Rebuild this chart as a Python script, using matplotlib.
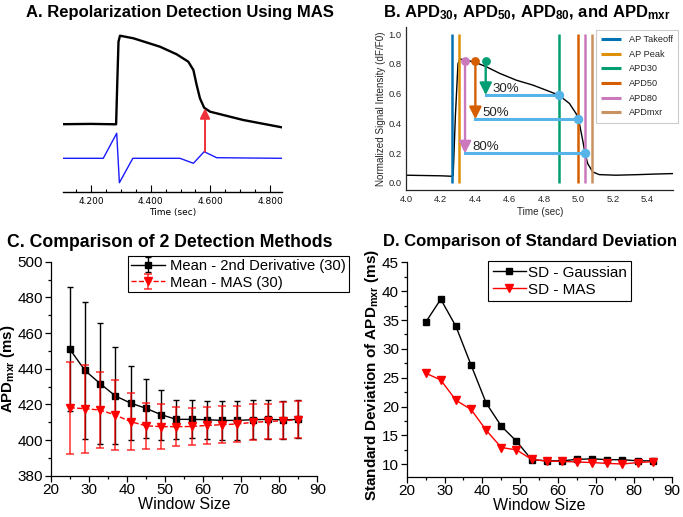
import matplotlib.pyplot as plt
import matplotlib.ticker as mticker

plt.rcParams["font.family"] = ["Liberation Sans", "DejaVu Sans"]
plt.rcParams["mathtext.default"] = "regular"

# ---- panel A: optical AP trace and MAS signal (time in s, amplitude in a.u.)
a_ap_time = [4.107, 4.200, 4.284, 4.288, 4.292, 4.297, 4.342, 4.431, 4.487, 4.526,
             4.543, 4.554, 4.565, 4.579, 4.599, 4.710, 4.839]
a_ap = [67.5, 67.8, 67.4, 110.0, 150.0, 156.0, 153.4, 145.0, 137.4, 130.0,
        121.7, 106.7, 93.4, 84.0, 80.0, 71.7, 64.4]
a_mas_time = [4.107, 4.241, 4.286, 4.295, 4.340, 4.498, 4.543, 4.579, 4.621, 4.839]
a_mas = [33.4, 33.4, 58.4, 9.0, 33.4, 33.4, 28.4, 40.0, 34.0, 33.4]
a_repol_t = 4.582
a_repol_from = 40.0
a_repol_to = 83.4

# ---- panel B: normalized AP with detected time points
b_time = [4.00, 4.10, 4.20, 4.263, 4.272, 4.285, 4.300, 4.311, 4.349, 4.407, 4.465,
          4.542, 4.639, 4.735, 4.812, 4.885, 4.947, 4.985, 5.000, 5.024, 5.038,
          5.053, 5.082, 5.120, 5.217, 5.350, 5.450, 5.550]
b_signal = [0.052, 0.050, 0.048, 0.045, 0.050, 0.45, 0.80, 0.832, 0.825, 0.807, 0.780,
            0.736, 0.690, 0.657, 0.623, 0.590, 0.534, 0.467, 0.428, 0.287, 0.198,
            0.130, 0.074, 0.056, 0.052, 0.056, 0.060, 0.063]
b_events = ["AP Takeoff", "AP Peak", "APD30", "APD50", "APD80", "APDmxr"]
b_event_t = [4.266, 4.307, 4.885, 4.999, 5.039, 5.076]
b_colors = ["#0173b2", "#de8f05", "#029e73", "#d55e00", "#cc78bc", "#ca9161"]
b_levels = ["30%", "50%", "80%"]
b_level_start = [4.461, 4.401, 4.341]
b_level_end = [4.885, 4.999, 5.039]
b_level_y = [0.590, 0.428, 0.198]
b_level_colors = ["#029e73", "#d55e00", "#cc78bc"]
b_peak_y = 0.818

# ---- panels C/D: window size sweep
window = [25, 29, 33, 37, 41, 45, 49, 53, 57, 61, 65, 69, 73, 77, 81, 85]
mean_2nd = [451.0, 439.0, 431.6, 424.7, 420.7, 417.8, 414.2, 411.6, 411.6, 411.4,
            411.0, 411.0, 411.4, 411.6, 411.3, 411.6]
mean_mas = [418.1, 417.6, 416.8, 414.0, 410.3, 408.0, 407.5, 407.5, 407.6, 408.2,
            408.6, 409.0, 409.9, 410.4, 410.8, 411.4]
sd_gauss = [34.6, 38.6, 33.9, 27.2, 20.6, 16.6, 14.0, 10.8, 10.6, 10.6,
            10.85, 10.95, 10.8, 10.8, 10.6, 10.6]
sd_mas = [25.8, 24.6, 21.1, 19.5, 15.9, 12.9, 12.5, 10.85, 10.55, 10.5,
          10.4, 10.3, 10.15, 10.05, 10.3, 10.45]

W, H = 683, 517
fig = plt.figure(figsize=(W / 100, H / 100), dpi=100)


def box(left, top, right, bottom):
    return [left / W, 1 - bottom / H, (right - left) / W, (bottom - top) / H]


# ================= A
ax_a = fig.add_axes(box(63.3, 30, 281.7, 191.7))
ax_a.plot(a_ap_time, a_ap, color="black", lw=1.7)
ax_a.plot(a_mas_time, a_mas, color="#1a1aff", lw=1.0)
ax_a.annotate("", xy=(a_repol_t, a_repol_to), xytext=(a_repol_t, a_repol_from),
              arrowprops=dict(arrowstyle="-|>,head_length=0.5,head_width=0.25",
                              color="#f0303a", lw=1.4, shrinkA=0, shrinkB=0,
                              mutation_scale=12))
ax_a.set_xlim(4.107, 4.839)
ax_a.set_ylim(0, 161.7)
for s in ["left", "right", "top"]:
    ax_a.spines[s].set_visible(False)
ax_a.spines["bottom"].set_linewidth(1.0)
ax_a.set_yticks([])
ax_a.xaxis.set_major_locator(mticker.MultipleLocator(0.2))
ax_a.xaxis.set_minor_locator(mticker.MultipleLocator(0.05))
ax_a.xaxis.set_major_formatter(mticker.FormatStrFormatter("%.3f"))
ax_a.tick_params(axis="x", which="major", direction="in", length=4.8, width=0.8,
                 labelsize=6.5, pad=3.5)
ax_a.tick_params(axis="x", which="minor", direction="in", length=2.4, width=0.8)
for lab in ax_a.get_xticklabels():
    lab.set_family("DejaVu Sans")
ax_a.set_xlabel("Time (sec)", fontsize=6.5, family="DejaVu Sans", labelpad=1.5)

# ================= B
ax_b = fig.add_axes(box(406.3, 26.6, 673.3, 190.4))
ax_b.plot(b_time, b_signal, color="black", lw=1.0, zorder=2)
for name, t, c in zip(b_events, b_event_t, b_colors):
    ax_b.vlines(t, 0, 1, color=c, lw=1.8, label=name, zorder=3)
for lab, x0, x1, y, c in zip(b_levels, b_level_start, b_level_end, b_level_y, b_level_colors):
    ax_b.plot([x0, x1], [y, y], color="#56b4e9", lw=2.2, zorder=4)
    ax_b.plot(x1, y, "o", color="#56b4e9", ms=5.8, zorder=5)
    ax_b.plot(x0, b_peak_y, "o", color=c, ms=5.3, zorder=5)
    ax_b.annotate("", xy=(x0, y), xytext=(x0, b_peak_y),
                  arrowprops=dict(arrowstyle="-|>,head_length=0.4,head_width=0.2",
                                  color=c, lw=1.7, shrinkA=0, shrinkB=0,
                                  mutation_scale=18), zorder=5)
    ax_b.annotate(lab, xy=(x0, y), xytext=(5, 4.5), textcoords="offset points",
                  fontsize=9.5, color="#262626", va="center", ha="left", zorder=6)
ax_b.set_xlim(4.0, 5.55)
ax_b.set_ylim(-0.05, 1.05)
ax_b.set_xticks([4.0, 4.2, 4.4, 4.6, 4.8, 5.0, 5.2, 5.4])
ax_b.set_yticks([0.0, 0.2, 0.4, 0.6, 0.8, 1.0])
ax_b.tick_params(length=0, labelsize=6.8, labelcolor="#262626", pad=3.3)
for s in ["right", "top"]:
    ax_b.spines[s].set_visible(False)
for s in ["left", "bottom"]:
    ax_b.spines[s].set_color("#262626")
    ax_b.spines[s].set_linewidth(0.9)
ax_b.set_xlabel("Time (sec)", fontsize=7.1, color="#262626", labelpad=2)
ax_b.set_ylabel("Normalized Signal Intensity (dF/F0)", fontsize=7.1, color="#262626",
                labelpad=2)
leg_b = ax_b.legend(loc="upper right", bbox_to_anchor=(1.019, 0.979), borderaxespad=0,
                    fontsize=6.6, handlelength=2.2, labelspacing=0.62, handletextpad=0.9,
                    borderpad=0.55, fancybox=False, framealpha=1)
leg_b.get_frame().set_edgecolor("#cccccc")
leg_b.get_frame().set_linewidth(0.8)
for h in leg_b.get_lines():
    h.set_linewidth(2.2)
for t in leg_b.get_texts():
    t.set_color("#262626")


def origin_axes(ax):
    for s in ["right", "top"]:
        ax.spines[s].set_visible(False)
    for s in ["left", "bottom"]:
        ax.spines[s].set_linewidth(0.9)
    ax.tick_params(which="major", direction="out", length=4, width=0.9,
                   labelsize=11, pad=1.5)
    ax.tick_params(which="minor", direction="out", length=2.3, width=0.9)
    ax.xaxis.set_major_locator(mticker.MultipleLocator(10))
    ax.xaxis.set_minor_locator(mticker.MultipleLocator(5))
    ax.set_xlim(20, 90)
    ax.set_xlabel("Window Size", fontsize=11.5, labelpad=0)


# ================= C
ax_c = fig.add_axes(box(50.7, 261.7, 317.3, 475.7))
ax_c.errorbar(window, mean_2nd, yerr=sd_gauss, color="black", lw=1.0, marker="s", ms=4,
              elinewidth=1.0, capsize=2.5, capthick=1.0,
              label="Mean - 2nd Derivative (30)", zorder=3)
eb = ax_c.errorbar(window, mean_mas, yerr=sd_mas, color="#ff0000", lw=1.0, ls="--",
                   marker="v", ms=5.5, elinewidth=1.2, capsize=2.8, capthick=1.2,
                   label="Mean - MAS (30)", zorder=4)
for art in eb[1] + eb[2]:
    art.set_alpha(0.75)
origin_axes(ax_c)
ax_c.set_ylim(380, 500)
ax_c.yaxis.set_major_locator(mticker.MultipleLocator(20))
ax_c.yaxis.set_minor_locator(mticker.MultipleLocator(10))
ax_c.set_ylabel("APD$_{mxr}$ (ms)", fontsize=10.8, fontweight="bold")
ax_c.yaxis.set_label_coords(-0.125, 0.5)
leg_c = ax_c.legend(loc="upper left", bbox_to_anchor=(0.29, 1.027), borderaxespad=0,
                    fontsize=10.6, handlelength=2.3, handletextpad=0.35, labelspacing=0.18,
                    borderpad=0.2, fancybox=False, framealpha=1)
leg_c.get_frame().set_edgecolor("black")
leg_c.get_frame().set_linewidth(0.8)

# ================= D
ax_d = fig.add_axes(box(406.7, 262.3, 671.7, 476.7))
ax_d.plot(window, sd_gauss, color="black", lw=1.0, marker="s", ms=4.2,
          label="SD - Gaussian")
ax_d.plot(window, sd_mas, color="#ff0000", lw=1.0, marker="v", ms=5.8,
          label="SD - MAS")
origin_axes(ax_d)
ax_d.set_ylim(7.85, 45)
ax_d.yaxis.set_major_locator(mticker.MultipleLocator(5))
ax_d.yaxis.set_minor_locator(mticker.MultipleLocator(2.5))
ax_d.set_ylabel("Standard Deviation of APD$_{mxr}$ (ms)", fontsize=11,
                fontweight="bold")
ax_d.yaxis.set_label_coords(-0.097, 0.474)
leg_d = ax_d.legend(loc="upper left", bbox_to_anchor=(0.307, 1.006), borderaxespad=0,
                    fontsize=11, handlelength=2.2, handletextpad=0.1, labelspacing=0.2,
                    borderpad=0.3, fancybox=False, framealpha=1)
leg_d.get_frame().set_edgecolor("black")
leg_d.get_frame().set_linewidth(0.8)

# ================= titles
title_kw = dict(fontweight="bold", ha="center", va="center")
fig.text(180 / W, 1 - 12 / H, "A. Repolarization Detection Using MAS", fontsize=12,
         **title_kw)
fig.text(527 / W, 1 - 13 / H, "B. APD$_{30}$, APD$_{50}$, APD$_{80}$, and APD$_{mxr}$",
         fontsize=12, **title_kw)
fig.text(170 / W, 1 - 242.7 / H, "C. Comparison of 2 Detection Methods", fontsize=12.7,
         **title_kw)
fig.text(530 / W, 1 - 241.7 / H, "D. Comparison of Standard Deviation", fontsize=12,
         **title_kw)

fig.savefig("out.png", dpi=100)
